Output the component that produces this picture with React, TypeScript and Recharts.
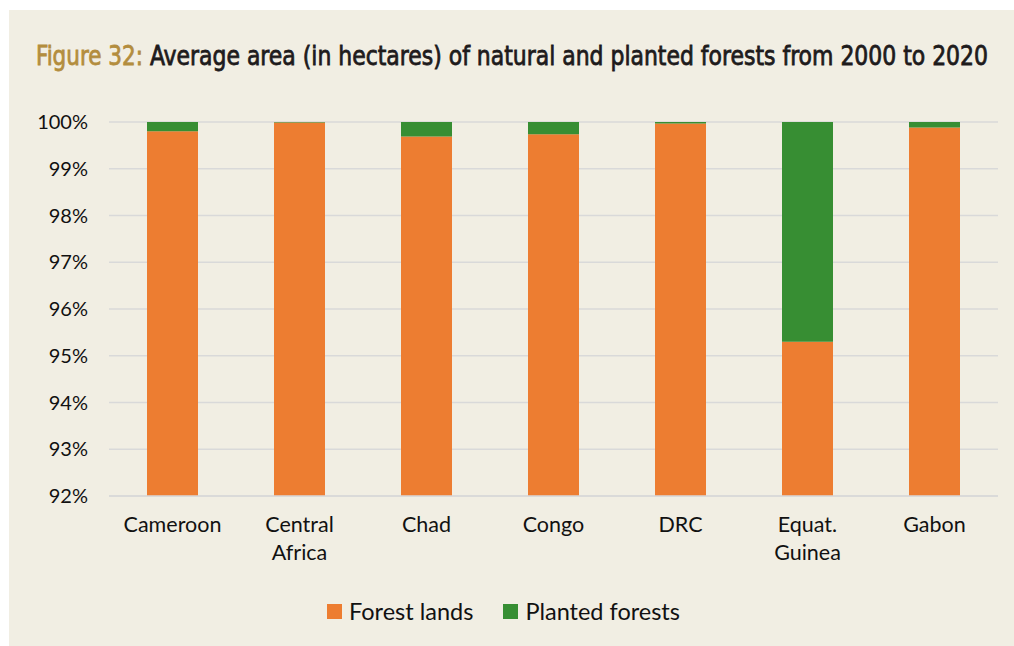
import React from 'react';
import { BarChart, Bar, XAxis, YAxis, CartesianGrid, Legend } from 'recharts';

const categories = ['Cameroon', 'Central\nAfrica', 'Chad', 'Congo', 'DRC', 'Equat.\nGuinea', 'Gabon'];
const forestLands = [99.8, 99.99, 99.69, 99.74, 99.97, 95.3, 99.88];
const plantedForests = [0.2, 0.01, 0.31, 0.26, 0.03, 4.7, 0.12];
const yTicks = [92, 93, 94, 95, 96, 97, 98, 99, 100];

const ORANGE = '#ED7D31';
const GREEN = '#378E33';
const BG = '#F1EEE3';
const FONT = 'Lato, "Open Sans", sans-serif';
const TITLE_FONT = '"Liberation Sans Narrow", "DejaVu Sans Condensed", sans-serif';

const data = categories.map((c, i) => ({
  name: c,
  forest: forestLands[i],
  planted: plantedForests[i],
}));

const XTick = (props: any) => {
  const { x, y, payload } = props;
  const lines = String(payload.value).split('\n');
  return (
    <text x={x} y={y + 36} textAnchor="middle" fill="#111" fontSize={21.5} fontFamily={FONT}>
      {lines.map((l, i) => (
        <tspan key={i} x={x} dy={i === 0 ? 0 : 28}>{l}</tspan>
      ))}
    </text>
  );
};

const LegendContent = () => (
  <div style={{ height: 30, display: 'flex', justifyContent: 'center', alignItems: 'center', fontFamily: FONT, fontSize: 23.5, color: '#111' }}>
    <span style={{ display: 'inline-block', width: 15, height: 15, background: ORANGE, marginRight: 7 }} />
    <span style={{ marginRight: 30 }}>Forest lands</span>
    <span style={{ display: 'inline-block', width: 15, height: 15, background: GREEN, marginRight: 7 }} />
    <span>Planted forests</span>
  </div>
);

export default function App() {
  return (
    <div style={{ position: 'absolute', left: 0, top: 0, width: 1014, height: 646, background: '#fff', overflow: 'hidden' }}>
      <div style={{ position: 'absolute', left: 9, top: 10, width: 1005, height: 636, background: BG }}>
        <svg width={1005} height={90} style={{ position: 'absolute', left: 0, top: 0 }}>
          <g transform="translate(0,55) scale(1,1.12) translate(0,-55)">
            <text x={27} y={55} fontFamily={TITLE_FONT} fontSize={24.3} fill="#B38D3E" stroke="#B38D3E" strokeWidth={0.7} textLength={107} lengthAdjust="spacingAndGlyphs">
              Figure 32:
            </text>
            <text x={141} y={55} fontFamily={TITLE_FONT} fontSize={24.3} fill="#1E1B1C" stroke="#1E1B1C" strokeWidth={0.7} textLength={838} lengthAdjust="spacingAndGlyphs">
              Average area (in hectares) of natural and planted forests from 2000 to 2020
            </text>
          </g>
        </svg>
        <div style={{ position: 'absolute', left: 0, top: 0 }}>
          <BarChart width={1005} height={636} data={data} margin={{ top: 112, right: 16, bottom: 20, left: 0 }} barSize={51}>
            <CartesianGrid horizontal vertical={false} stroke="#D9D9D9" strokeWidth={1.5} />
            <XAxis dataKey="name" height={100} tick={<XTick />} tickLine={false} tickSize={0} tickMargin={0} axisLine={{ stroke: '#D9D9D9', strokeWidth: 1.5 }} interval={0} />
            <YAxis width={100} domain={[92, 100]} ticks={yTicks} allowDataOverflow tickFormatter={(v: number) => `${v}%`} tick={{ fontSize: 20, fontFamily: FONT, fill: '#111' }} tickLine={false} tickSize={0} tickMargin={21} axisLine={false} />
            <Legend verticalAlign="bottom" height={30} content={<LegendContent />} />
            <Bar dataKey="forest" stackId="a" fill={ORANGE} isAnimationActive={false} />
            <Bar dataKey="planted" stackId="a" fill={GREEN} isAnimationActive={false} />
          </BarChart>
        </div>
      </div>
    </div>
  );
}
